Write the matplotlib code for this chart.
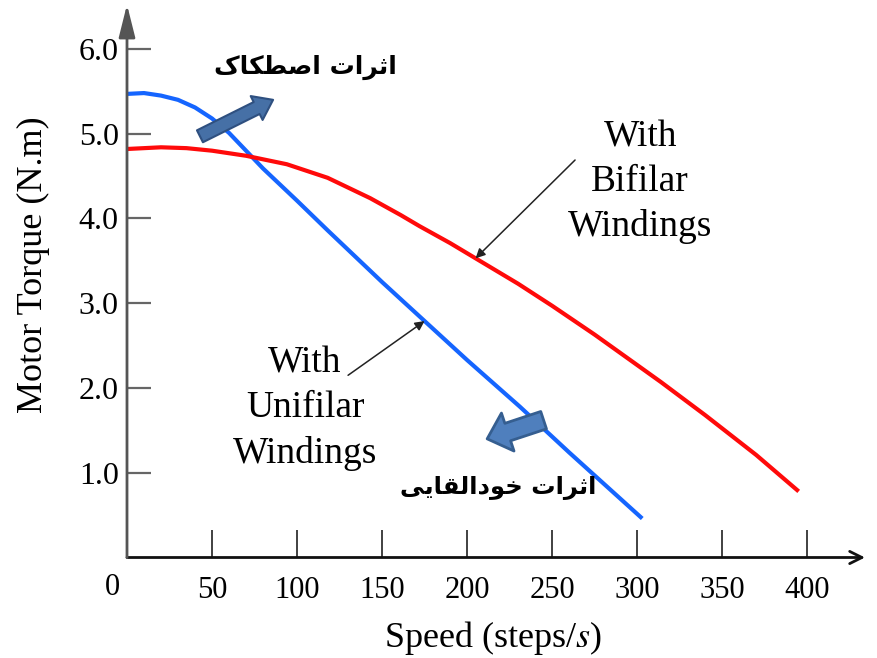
import matplotlib
matplotlib.use("Agg")
import matplotlib.pyplot as plt

# Torque vs speed curves for a stepper motor
unifilar_speed = [0, 10, 20, 30, 40, 50, 60, 70, 80, 90, 100, 118, 150, 175, 200, 231, 260, 303]
unifilar_torque = [5.47, 5.48, 5.45, 5.40, 5.31, 5.18, 5.01, 4.80, 4.59, 4.40, 4.21, 3.86,
                   3.25, 2.79, 2.33, 1.78, 1.24, 0.46]

bifilar_speed = [0, 20, 35, 50, 70, 94, 118, 143, 161, 172, 190, 205, 230, 250, 275, 298,
                 314, 340, 370, 395]
bifilar_torque = [4.82, 4.84, 4.83, 4.80, 4.74, 4.64, 4.48, 4.24, 4.04, 3.91, 3.71, 3.53,
                  3.23, 2.97, 2.63, 2.30, 2.07, 1.68, 1.21, 0.78]

x_ticks = [50, 100, 150, 200, 250, 300, 350, 400]
y_ticks = [1.0, 2.0, 3.0, 4.0, 5.0, 6.0]
y_tick_labels = ["1.0", "2.0", "3.0", "4.0", "5.0", "6.0"]

# Persian labels, written in shaped presentation forms (visual order)
friction_label = "\uFB8E\uFE8E\uFB91\uFEC4\uFEBB\uFE8D \uFE95\uFE8D\uFEAE\uFE9B\uFE8D"          # اثرات اصطکاک
inductance_label = "\uFBFD\uFBFE\uFE8E\uFED8\uFEDF\uFE8D\uFEA9\uFEEE\uFEA7 \uFE95\uFE8D\uFEAE\uFE9B\uFE8D"  # اثرات خودالقایی

plt.rcParams["font.family"] = ["Liberation Serif", "DejaVu Serif"]
plt.rcParams["mathtext.fontset"] = "stix"

fig = plt.figure(figsize=(8.77, 6.58), dpi=100)
ax = fig.add_axes([127 / 877, (658 - 557.5) / 658, 738 / 877, 547.5 / 658])
ax.set_xlim(0, 434)
ax.set_ylim(0, 6.46)

ax.plot(unifilar_speed, unifilar_torque, color="#1565FF", lw=3, solid_capstyle="butt",
        solid_joinstyle="round", zorder=3)
ax.plot(bifilar_speed, bifilar_torque, color="#FF0A0A", lw=3, solid_capstyle="butt",
        solid_joinstyle="round", zorder=3)

# axes drawn as arrows
for s in ax.spines.values():
    s.set_visible(False)
ax.annotate("", xy=(1, 0), xytext=(0, 0), xycoords="axes fraction",
            arrowprops=dict(arrowstyle="->", lw=2, color="#111111", shrinkA=0, shrinkB=0,
                            mutation_scale=22))
ax.annotate("", xy=(0, 1.01), xytext=(0, 0), xycoords="axes fraction",
            arrowprops=dict(arrowstyle="-|>,head_width=0.25,head_length=1.0", lw=2,
                            color="#555555", shrinkA=0, shrinkB=0, mutation_scale=20))

ax.set_xticks(x_ticks)
ax.set_xticklabels([str(v) for v in x_ticks])
ax.set_yticks(y_ticks)
ax.set_yticklabels(y_tick_labels)
ax.tick_params(axis="x", direction="in", length=20, width=1.3, color="#333333",
               pad=13, labelsize=22)
ax.tick_params(axis="y", direction="in", length=17, width=1.6, color="#666666",
               pad=6, labelsize=23)
ax.text(-0.02, -0.055, "0", transform=ax.transAxes, ha="center", va="center", fontsize=22)

ax.set_xlabel("Speed (steps/$s$)", fontsize=26)
ax.xaxis.set_label_coords(0.496, -0.112)
ax.set_ylabel("Motor Torque (N.m)", fontsize=26)
ax.yaxis.set_label_coords(-0.104, 0.534)

# curve labels with pointer arrows
ax.text(301.8, 4.43, "With\nBifilar\nWindings", ha="center", va="center", fontsize=27,
        linespacing=1.38)
ax.annotate("", xy=(205, 3.53), xytext=(263.5, 4.69),
            arrowprops=dict(arrowstyle="-|>", color="#222222", lw=1.1, shrinkA=0, shrinkB=0,
                            mutation_scale=14))
ax.text(104.7, 1.76, "With\nUnifilar\nWindings", ha="center", va="center", fontsize=27,
        linespacing=1.38)
ax.annotate("", xy=(175, 2.79), xytext=(130, 2.15),
            arrowprops=dict(arrowstyle="-|>", color="#222222", lw=1.1, shrinkA=0, shrinkB=0,
                            mutation_scale=14))

# block arrows marking the two effects
ax.annotate("", xy=(85.9, 5.40), xytext=(42.9, 4.97),
            arrowprops=dict(arrowstyle="simple,head_length=1.1,head_width=1.6,tail_width=0.8",
                            fc="#4670A6", ec="#2F5080", lw=1.5, shrinkA=0, shrinkB=0,
                            mutation_scale=12), zorder=4)
ax.annotate("", xy=(211.8, 1.40), xytext=(245, 1.62),
            arrowprops=dict(arrowstyle="simple,head_length=1.3,head_width=2.4,tail_width=1.1",
                            fc="#4F7FBD", ec="#355E90", lw=2, shrinkA=0, shrinkB=0,
                            mutation_scale=12), zorder=4)

ax.text(104.7, 5.78, friction_label, ha="center", va="center", fontsize=18,
        family=["DejaVu Sans"], fontweight="bold")
ax.text(218.2, 0.82, inductance_label, ha="center", va="center", fontsize=17.5,
        family=["DejaVu Sans"], fontweight="bold")

plt.savefig("out.png", dpi=100)
